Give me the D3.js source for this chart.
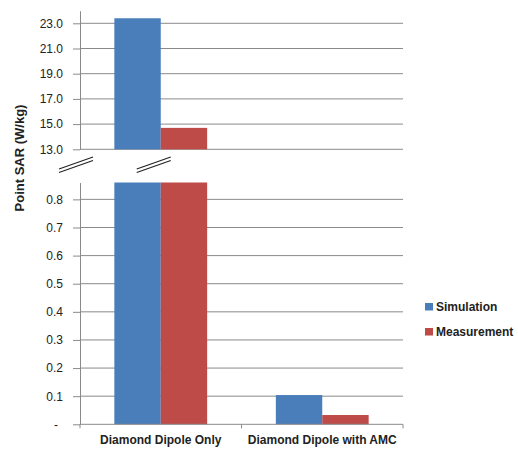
<!DOCTYPE html>
<html><head><meta charset="utf-8">
<script src="https://cdn.jsdelivr.net/npm/d3@7"></script>
<style>
body{margin:0;background:#fff;}
svg{display:block;font-family:"Liberation Sans",Arial,sans-serif;}
</style></head>
<body><svg id="c" width="518" height="455"></svg>
<script>
const categories = ["Diamond Dipole Only", "Diamond Dipole with AMC"];
const seriesNames = ["Simulation", "Measurement"];
const simulation = [23.4, 0.104];
const measurement = [14.7, 0.033];
const topTicks = [13, 15, 17, 19, 21, 23];
const bottomTicks = [0, 0.1, 0.2, 0.3, 0.4, 0.5, 0.6, 0.7, 0.8];
const colors = ["#4A7EBB", "#BE4B48"];

const svg = d3.select("#c");
const gridColor = "#8a8a8a";
const left = 80, right = 403;

const x = d3.scaleBand().domain(categories).range([left, right]).padding(0);
const xs = d3.scaleBand().domain(seriesNames).range([0, x.bandwidth()]).paddingInner(0).paddingOuter(0.74);

const yTop = d3.scaleLinear().domain([13, 24]).range([149.3, 10.7]);
const yBot = d3.scaleLinear().domain([0, 0.86]).range([424.3, 182.5]);

const rows = categories.map((c, i) => ({cat: c, vals: [simulation[i], measurement[i]]}));

// gridlines
svg.append("g").selectAll("line").data(topTicks).join("line")
  .attr("x1", left).attr("x2", right)
  .attr("y1", d => yTop(d)).attr("y2", d => yTop(d))
  .attr("stroke", gridColor).attr("stroke-width", 1);
svg.append("g").selectAll("line").data(bottomTicks.filter(d => d > 0)).join("line")
  .attr("x1", left).attr("x2", right)
  .attr("y1", d => yBot(d)).attr("y2", d => yBot(d))
  .attr("stroke", gridColor).attr("stroke-width", 1);

// bars top panel
const gTop = svg.append("g");
rows.forEach(r => {
  r.vals.forEach((v, j) => {
    if (v > yTop.domain()[0]) {
      const vv = Math.min(v, yTop.domain()[1]);
      gTop.append("rect")
        .attr("x", x(r.cat) + xs(seriesNames[j]))
        .attr("width", xs.bandwidth())
        .attr("y", yTop(vv))
        .attr("height", yTop(yTop.domain()[0]) - yTop(vv))
        .attr("fill", colors[j]);
    }
  });
});
// bars bottom panel
const gBot = svg.append("g");
rows.forEach(r => {
  r.vals.forEach((v, j) => {
    const vv = Math.min(v, yBot.domain()[1]);
    gBot.append("rect")
      .attr("x", x(r.cat) + xs(seriesNames[j]))
      .attr("width", xs.bandwidth())
      .attr("y", yBot(vv))
      .attr("height", yBot(0) - yBot(vv))
      .attr("fill", colors[j]);
  });
});

// axes
const axTop = svg.append("g").attr("transform", `translate(${left},0)`)
  .call(d3.axisLeft(yTop).tickValues(topTicks).tickFormat(d3.format(".1f")).tickSize(7).tickPadding(10).tickSizeOuter(0));
const axBot = svg.append("g").attr("transform", `translate(${left},0)`)
  .call(d3.axisLeft(yBot).tickValues(bottomTicks).tickFormat(d => d === 0 ? "-" : d3.format(".1f")(d)).tickSize(7).tickPadding(10).tickSizeOuter(0));
[axTop, axBot].forEach(a => {
  a.select(".domain").attr("stroke", gridColor);
  a.selectAll(".tick line").attr("stroke", gridColor);
  a.selectAll(".tick text").attr("fill", "#222").style("font-size", "12px").style("font-family", "'Liberation Sans',Arial,sans-serif");
});
axBot.selectAll(".tick text").filter(d => d === 0).attr("x", -24).attr("text-anchor", "middle");

// x axis
const xAx = svg.append("g").attr("transform", `translate(0,${yBot(0)})`);
xAx.append("line").attr("x1", left).attr("x2", right).attr("stroke", gridColor);
const bounds = [left].concat(categories.map(c => x(c) + x.bandwidth()));
xAx.selectAll("line.t").data(bounds).join("line").attr("class", "t")
  .attr("x1", d => d).attr("x2", d => d).attr("y1", 0).attr("y2", 4).attr("stroke", gridColor);
xAx.selectAll("text").data(categories).join("text")
  .attr("x", d => x(d) + x.bandwidth() / 2).attr("y", 20)
  .attr("text-anchor", "middle").style("font-size", "12px").style("font-weight", "bold").attr("fill", "#222")
  .text(d => d);

// break marks
const breaks = [left - 4, x(categories[0]) + x.bandwidth() / 2 - 7];
breaks.forEach(bx => {
  [0, 3.5].forEach(off => {
    svg.append("line")
      .attr("x1", bx - 17).attr("y1", 169 + off)
      .attr("x2", bx + 17).attr("y2", 157 + off)
      .attr("stroke", "#222").attr("stroke-width", 1.1);
  });
});

// y title
svg.append("text")
  .attr("transform", `translate(24,158) rotate(-90)`)
  .attr("text-anchor", "middle").style("font-size", "13px").style("font-weight", "bold").attr("fill", "#222")
  .text("Point SAR (W/kg)");

// legend
const lg = svg.append("g").attr("transform", "translate(425,302)");
seriesNames.forEach((s, i) => {
  const g = lg.append("g").attr("transform", `translate(0,${i * 25})`);
  g.append("rect").attr("x", 0).attr("y", 1).attr("width", 8).attr("height", 7.5).attr("fill", colors[i]);
  g.append("text").attr("x", 11).attr("y", 9).style("font-size", "12px").style("font-weight", "bold").attr("fill", "#222").text(s);
});
</script></body></html>
